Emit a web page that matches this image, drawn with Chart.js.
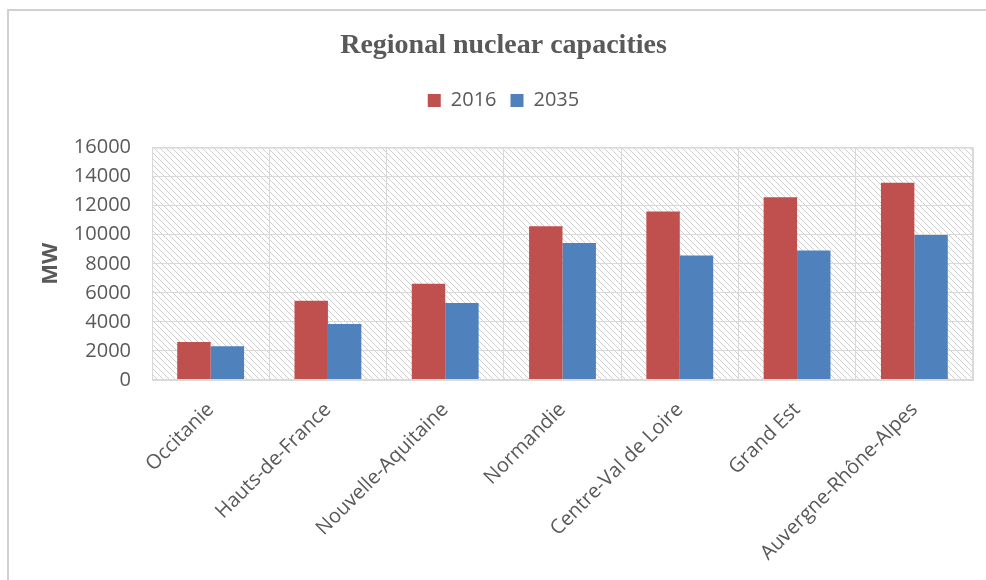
<!DOCTYPE html>
<html>
<head>
<meta charset="utf-8">
<script src="https://cdn.jsdelivr.net/npm/chart.js@4.4.1/dist/chart.umd.min.js"></script>
<style>
  html, body { margin: 0; padding: 0; background: #ffffff; }
  #wrap { width: 986px; height: 580px; position: relative; }
</style>
</head>
<body>
<div id="wrap"><canvas id="c" width="986" height="580"></canvas></div>
<script>
const categories = ["Occitanie", "Hauts-de-France", "Nouvelle-Aquitaine", "Normandie", "Centre-Val de Loire", "Grand Est", "Auvergne-Rhône-Alpes"];
const values2016 = [2620, 5460, 6630, 10590, 11600, 12580, 13580];
const values2035 = [2330, 3850, 5300, 9430, 8580, 8920, 9990];
const seriesNames = ["2016", "2035"];
const yTicks = [0, 2000, 4000, 6000, 8000, 10000, 12000, 14000, 16000];

const TEXT = '#595959';
const GRID = '#d9d9d9';

const hatchPlugin = {
  id: 'hatch',
  beforeInit(chart) {
    const legend = chart.legend;
    if (legend) {
      const orig = legend.fit;
      legend.fit = function () { orig.call(this); this.height += 27; };
    }
  },
  beforeDraw(chart) {
    const ctx = chart.ctx;
    const a = chart.chartArea;
    ctx.save();
    ctx.strokeStyle = '#d0d0d0';
    ctx.lineWidth = 2;
    ctx.beginPath();
    ctx.moveTo(8, 580);
    ctx.lineTo(8, 10);
    ctx.lineTo(986, 10);
    ctx.stroke();
    ctx.restore();
    const pc = document.createElement('canvas');
    pc.width = 6; pc.height = 6;
    const p = pc.getContext('2d');
    p.fillStyle = '#ffffff';
    p.fillRect(0, 0, 6, 6);
    p.strokeStyle = '#cfcfcf';
    p.lineWidth = 1;
    p.beginPath();
    p.moveTo(-1, -1); p.lineTo(7, 7);
    p.moveTo(-1, 5); p.lineTo(1, 7);
    p.moveTo(5, -1); p.lineTo(7, 1);
    p.stroke();
    ctx.save();
    ctx.fillStyle = ctx.createPattern(pc, 'repeat');
    ctx.fillRect(a.left, a.top, a.right - a.left, a.bottom - a.top);
    ctx.restore();
  },
  afterDatasetsDraw(chart) {
    const ctx = chart.ctx;
    const a = chart.chartArea;
    ctx.save();
    ctx.strokeStyle = GRID;
    ctx.lineWidth = 1;
    ctx.strokeRect(a.left + 0.5, a.top + 0.5, a.right - a.left - 1, a.bottom - a.top - 1);
    ctx.restore();
  }
};

new Chart(document.getElementById('c'), {
  type: 'bar',
  data: {
    labels: categories,
    datasets: [
      { label: seriesNames[0], data: values2016, backgroundColor: '#C0504D', borderWidth: 0,
        categoryPercentage: 0.57, barPercentage: 1.0 },
      { label: seriesNames[1], data: values2035, backgroundColor: '#4F81BD', borderWidth: 0,
        categoryPercentage: 0.57, barPercentage: 1.0 }
    ]
  },
  plugins: [hatchPlugin],
  options: {
    responsive: false,
    animation: false,
    devicePixelRatio: 1,
    layout: { padding: { left: 34, right: 13, top: 0, bottom: 0 } },
    plugins: {
      title: {
        display: true,
        text: 'Regional nuclear capacities',
        color: TEXT,
        font: { family: 'Liberation Serif', size: 28, weight: 'bold' },
        padding: { top: 29, bottom: 14 }
      },
      legend: {
        display: true,
        position: 'top',
        labels: {
          color: TEXT,
          font: { family: 'Open Sans', size: 20 },
          boxWidth: 13, boxHeight: 13, padding: 14
        }
      },
      tooltip: { enabled: false }
    },
    scales: {
      x: {
        grid: { color: GRID, lineWidth: 1, offset: true, drawTicks: false },
        border: { color: GRID },
        ticks: {
          color: TEXT,
          font: { family: 'Open Sans', size: 20 },
          minRotation: 45, maxRotation: 45, padding: 18, autoSkip: false
        },
        afterFit(scale) { scale.height = 200; }
      },
      y: {
        min: 0, max: 16000,
        grid: { color: GRID, lineWidth: 1, drawTicks: false },
        border: { color: GRID },
        afterBuildTicks(scale) { scale.ticks = yTicks.map(v => ({ value: v })); },
        ticks: {
          color: TEXT,
          font: { family: 'Open Sans', size: 20 },
          padding: 21,
          callback: (v) => String(v)
        },
        title: {
          display: true,
          text: 'MW',
          color: TEXT,
          font: { family: 'Open Sans', size: 22, weight: 'bold' },
          padding: { top: 4, bottom: 0 }
        },
        afterFit(scale) { scale.width = 118; }
      }
    }
  }
});
</script>
</body>
</html>
